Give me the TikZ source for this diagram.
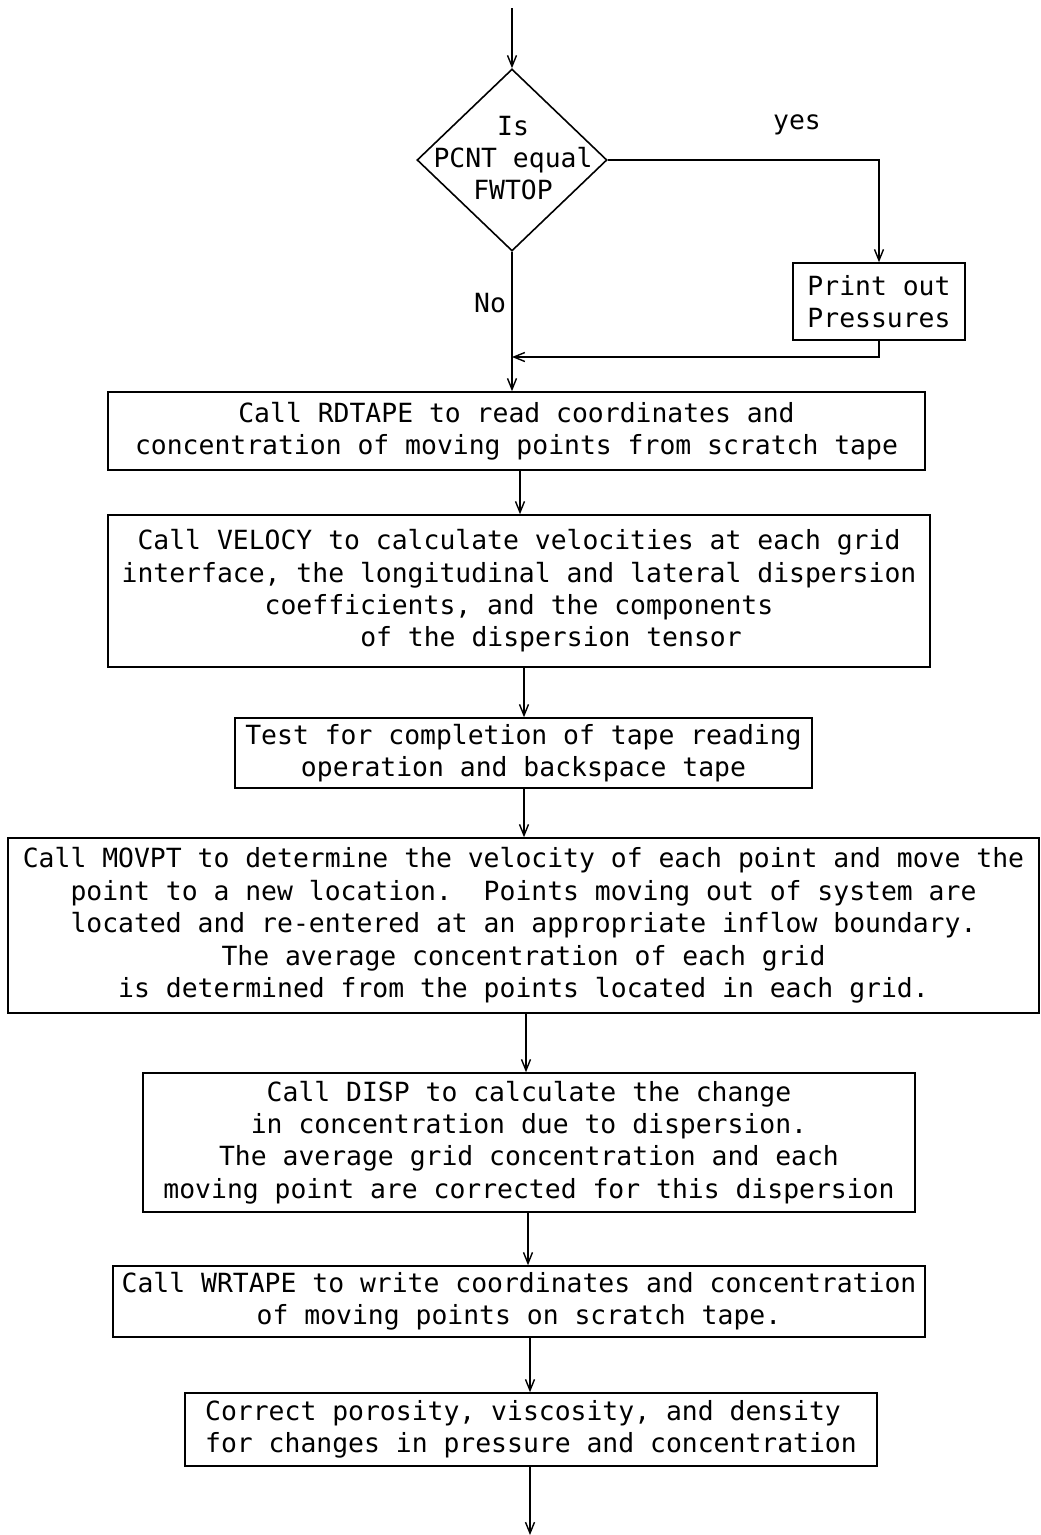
\documentclass[tikz,border=0pt]{standalone}
\usepackage{fontspec}
\newfontfamily\flowmono{DejaVu Sans Mono}
\usetikzlibrary{shapes.geometric,arrows.meta}
\begin{document}
\begin{tikzpicture}[x=1pt,y=-1pt,
  every node/.style={font=\flowmono\fontsize{26.4}{32.4}\selectfont},
  proc/.style={draw,line width=1.6pt,inner sep=0pt,align=center},
  arr/.style={line width=1.6pt,-{Straight Barb[length=11pt,width=9pt,line width=1.4pt]}},
  lbl/.style={inner sep=0pt}]
\frenchspacing
\useasboundingbox (0,0) rectangle (1041,1535);
\fill[white] (0,0) rectangle (1041,1535);
% decision
\node[draw,diamond,line width=1.6pt,inner sep=0pt,minimum width=190pt,minimum height=182pt] (d) at (512,160) {};
\node[lbl,align=center] (dt) at (513,158) {Is\\PCNT equal\\FWTOP};
\coordinate (start) at (512,8);
\draw[arr] (start) -- (d.north);
% print box
\node[proc,align=left,minimum width=172pt,minimum height=77pt] (pr) at (879,301.5) {Print out\\Pressures};
\node[lbl] (yes) at (797,125) {yes};
\node[lbl] (no) at (490,303) {No};
\draw[arr] (d.east) -| (pr.north);
\coordinate (join) at (512,357);
\draw[arr] (pr.south) |- (join);
% boxes
\node[proc,minimum width=817pt,minimum height=78pt] (rd) at (516.5,431) {Call RDTAPE to read coordinates and\\concentration of moving points from scratch tape};
\node[proc,minimum width=822pt,minimum height=152pt] (ve) at (519,591) {Call VELOCY to calculate velocities at each grid\\interface, the longitudinal and lateral dispersion\\coefficients, and the components\\\hspace*{64pt}of the dispersion tensor};
\node[proc,minimum width=577pt,minimum height=70pt] (te) at (523.5,753) {Test for completion of tape reading\\operation and backspace tape};
\node[proc,minimum width=1031pt,minimum height=175pt] (mo) at (523.5,925.5) {Call MOVPT to determine the velocity of each point and move the\\point to a new location.\ \ Points moving out of system are\\located and re-entered at an appropriate inflow boundary.\\The average concentration of each grid\\is determined from the points located in each grid.};
\node[proc,minimum width=772pt,minimum height=139pt] (di) at (529,1142.5) {Call DISP to calculate the change\\in concentration due to dispersion.\\The average grid concentration and each\\moving point are corrected for this dispersion};
\node[proc,minimum width=812pt,minimum height=71pt] (wr) at (519,1301.5) {Call WRTAPE to write coordinates and concentration\\of moving points on scratch tape.};
\node[proc,align=left,minimum width=692pt,minimum height=73pt] (co) at (531,1429.5) {Correct porosity, viscosity, and density\\for changes in pressure and concentration};
% connectors
\draw[arr] (d.south) -- (d.south |- rd.north);
\coordinate (c1) at (520,0);
\coordinate (c2) at (524,0);
\coordinate (c3) at (526,0);
\coordinate (c4) at (528,0);
\coordinate (c5) at (530,0);
\coordinate (end) at (530,1535);
\draw[arr] (rd.south -| c1) -- (ve.north -| c1);
\draw[arr] (ve.south -| c2) -- (te.north -| c2);
\draw[arr] (te.south -| c2) -- (mo.north -| c2);
\draw[arr] (mo.south -| c3) -- (di.north -| c3);
\draw[arr] (di.south -| c4) -- (wr.north -| c4);
\draw[arr] (wr.south -| c5) -- (co.north -| c5);
\draw[arr] (co.south -| c5) -- (end);
\end{tikzpicture}
\end{document}
